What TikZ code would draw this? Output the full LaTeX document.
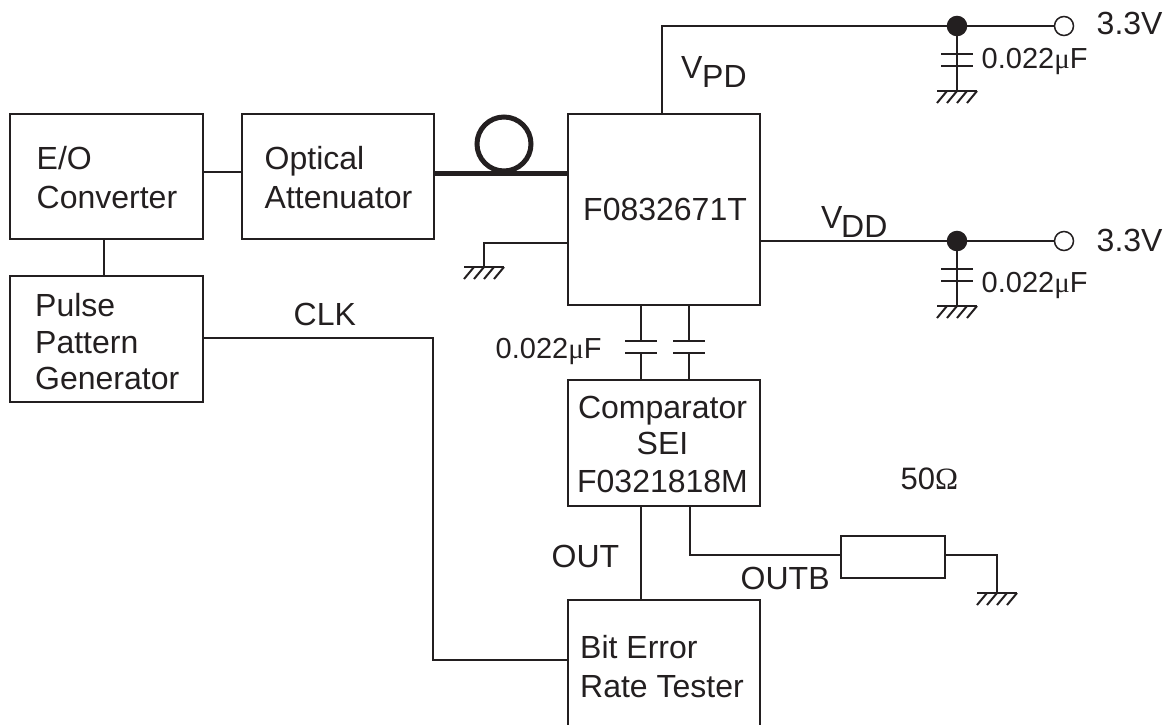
\documentclass[tikz,border=0pt]{standalone}
\usepackage{fontspec}
\setmainfont{Liberation Sans}
\newfontfamily\symfam{Liberation Serif}
\newcommand{\mainsz}{\fontsize{32}{38}\selectfont}
\newcommand{\capsz}{\fontsize{29}{34}\selectfont}
\newcommand{\umu}{{\symfam μ}}
\definecolor{ink}{RGB}{35,31,32}
\tikzset{
  x=1pt,y=-1pt,
  wire/.style={draw=ink,line width=1.5pt},
  blockbox/.style={draw=ink,line width=1.5pt,rectangle,anchor=north west,inner sep=0pt,minimum width=#1},
  label/.style={anchor=base west,inner sep=0pt,text=ink,font=\mainsz},
  caplabel/.style={anchor=base west,inner sep=0pt,text=ink,font=\capsz},
  midlabel/.style={anchor=base,inner sep=0pt,text=ink,font=\mainsz},
  plate/.style={draw=ink,line width=2pt},
  fibre/.style={draw=ink,line width=5pt},
  hatch/.style={draw=ink,line width=2pt},
  dotfilled/.style={circle,fill=ink,draw=ink,line width=1.5pt,minimum size=19pt,inner sep=0pt},
  dotopen/.style={circle,fill=white,draw=ink,line width=1.5pt,minimum size=19pt,inner sep=0pt},
  ground/.pic={
    \draw[draw=ink,line width=2pt] (-20,0) -- (20,0);
    \foreach \gx in {-10,0,10,20}
      \draw[hatch] (\gx,0) -- (\gx-10,12);
  },
  capacitor/.pic={
    \draw[plate] (-16,0) -- (16,0);
    \draw[plate] (-16,12) -- (16,12);
  }
}
\begin{document}
\begin{tikzpicture}
\useasboundingbox (0,0) rectangle (1171,724);
\clip (0,0) rectangle (1171,724);
% blocks
\node[blockbox=193pt,minimum height=125pt] (eo) at (9,113) {};
\node[blockbox=192pt,minimum height=125pt] (att) at (241,113) {};
\node[blockbox=192pt,minimum height=191pt] (chip) at (567,113) {};
\node[blockbox=193pt,minimum height=126pt] (ppg) at (9,275) {};
\node[blockbox=192pt,minimum height=126pt] (comp) at (567,379) {};
\node[blockbox=192pt,minimum height=140pt] (bert) at (567,599) {};
\node[blockbox=104pt,minimum height=42pt] (res) at (840,535) {};
% free coordinates
\coordinate (j1) at (957,26);
\coordinate (t1) at (1064,26);
\coordinate (j2) at (957,241);
\coordinate (t2) at (1064,241);
\coordinate (g1) at (957,91);
\coordinate (g2) at (957,306);
\coordinate (g3) at (484,267);
\coordinate (g4) at (997,593);
\coordinate (c1t) at (641,341);
\coordinate (c2t) at (689,341);
% connectors
\draw[wire] (eo.east |- 0,172) -- (att.west |- 0,172);
\draw[wire] (eo.south -| 104,0) -- (ppg.north -| 104,0);
\draw[wire] (ppg.east |- 0,338) -- (433,338) -- (433,660) -- (bert.west |- 0,660);
\draw[wire] (662,113) -- (662,26) -- (j1);
\draw[wire] (j1) -- (t1);
\draw[wire] (j1) -- (g1);
\draw[wire] (chip.east |- j2) -- (t2);
\draw[wire] (j2) -- (g2);
\draw[wire] (chip.west |- 0,243) -- (484,243) -- (g3);
\draw[wire] (641,304) -- (c1t);
\draw[wire] (641,353) -- (641,379);
\draw[wire] (689,304) -- (c2t);
\draw[wire] (689,353) -- (689,379);
\draw[wire] (641,505) -- (641,599);
\draw[wire] (690,505) -- (690,555) -- (res.west |- 0,555);
\draw[wire] (res.east |- 0,555) -- (997,555) -- (g4);
% fibre
\draw[fibre] (att.east |- 0,173) -- (chip.west |- 0,173);
\draw[fibre] (504,144) circle (27);
% capacitors and grounds
\pic at (957,54) {capacitor};
\pic at (957,269) {capacitor};
\pic at (641,341) {capacitor};
\pic at (689,341) {capacitor};
\pic at (g1) {ground};
\pic at (g2) {ground};
\pic at (g3) {ground};
\pic at (g4) {ground};
% terminals
\node[dotfilled] (jd1) at (j1) {};
\node[dotopen] (to1) at (t1) {};
\node[dotfilled] (jd2) at (j2) {};
\node[dotopen] (to2) at (t2) {};
% text
\node[label] (l1) at (36.5,169) {E/O};
\node[label] (l2) at (36.5,208) {Converter};
\node[label] (l3) at (264.5,169) {Optical};
\node[label] (l4) at (264.5,208) {Attenuator};
\node[label] (l5) at (583,220) {F0832671T};
\node[label] (l6) at (35,316) {Pulse};
\node[label] (l7) at (35,353) {Pattern};
\node[label] (l8) at (35,389) {Generator};
\node[label] (l9) at (293.5,325) {CLK};
\node[midlabel] (l10) at (662.5,418) {Comparator};
\node[midlabel] (l11) at (662.5,454) {SEI};
\node[midlabel] (l12) at (662.5,492) {F0321818M};
\node[label] (l13) at (551.5,567) {OUT};
\node[label] (l14) at (740.5,589) {OUTB};
\node[label] (l15) at (580,658) {Bit Error};
\node[label] (l16) at (580,697) {Rate Tester};
\node[label,font=\fontsize{31}{36}\selectfont] (l17) at (900.5,489) {50{\symfam Ω}};
\node[label] (l18) at (1096.5,34) {3.3V};
\node[label] (l19) at (1096.5,251) {3.3V};
\node[caplabel] (l20) at (981.5,68) {0.022\umu F};
\node[caplabel] (l21) at (981.5,292) {0.022\umu F};
\node[caplabel] (l22) at (495.5,358) {0.022\umu F};
\node[label] (l23) at (681,78) {V};
\node[label] (l24) at (702,87) {PD};
\node[label] (l25) at (821,228) {V};
\node[label] (l26) at (841,237) {DD};
\end{tikzpicture}
\end{document}
